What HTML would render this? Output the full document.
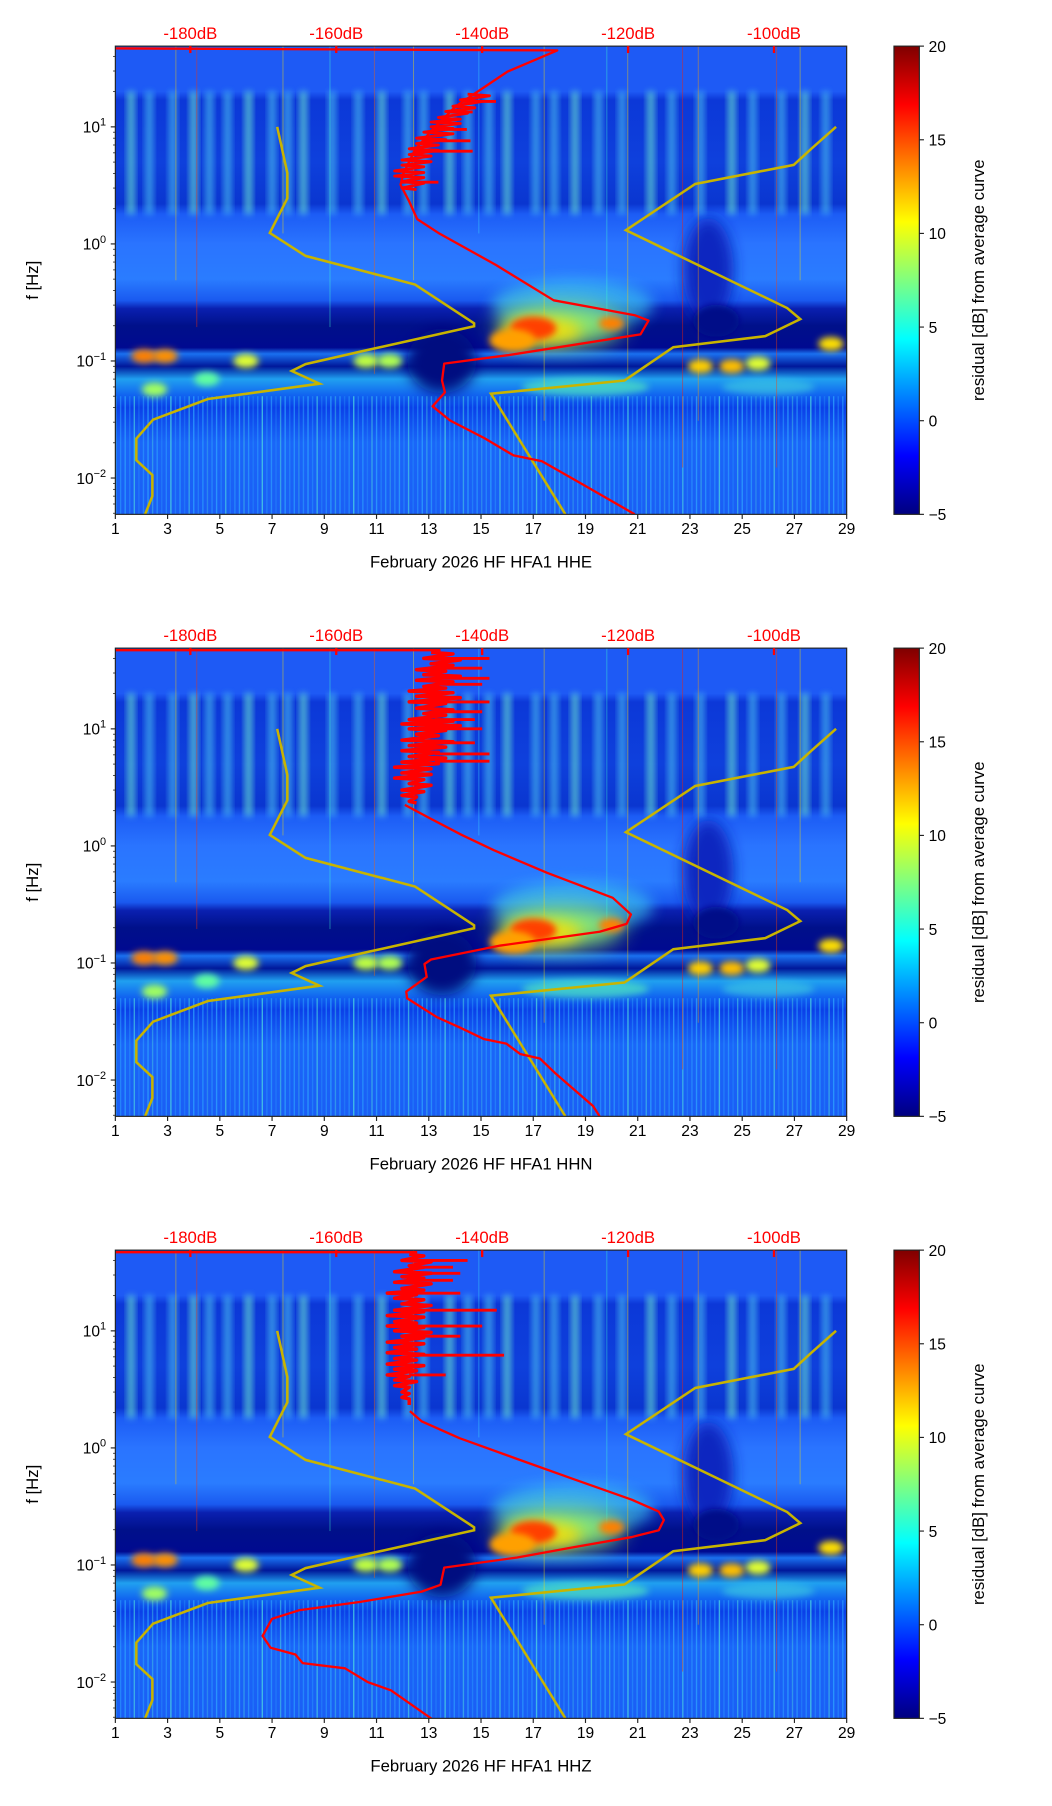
<!DOCTYPE html>
<html><head><meta charset="utf-8"><title>HFA1 spectrogram residuals</title>
<style>
html,body{margin:0;padding:0;background:#fff;}
svg{display:block;font-family:"Liberation Sans",sans-serif;}
</style></head>
<body>
<svg id="chart" width="1052" height="1806" viewBox="0 0 912 1566" preserveAspectRatio="none" xmlns="http://www.w3.org/2000/svg">
<defs>
<linearGradient id="jet" x1="0" y1="1" x2="0" y2="0">
<stop offset="0" stop-color="#00007f"/><stop offset="0.125" stop-color="#0000ff"/>
<stop offset="0.375" stop-color="#00ffff"/><stop offset="0.625" stop-color="#ffff00"/>
<stop offset="0.875" stop-color="#ff0000"/><stop offset="1" stop-color="#7f0000"/>
</linearGradient>
<filter id="blur3" x="-50%" y="-50%" width="200%" height="200%"><feGaussianBlur stdDeviation="3"/></filter>
<filter id="blur6" x="-50%" y="-50%" width="200%" height="200%"><feGaussianBlur stdDeviation="6"/></filter>
<filter id="blur10" x="-50%" y="-50%" width="200%" height="200%"><feGaussianBlur stdDeviation="10"/></filter>
</defs>
</svg>
<script>
// ---------- data ----------
const panelTops = [40, 562, 1084];
const channelNames = ["HHE", "HHN", "HHZ"];
const dayTicks = [1,3,5,7,9,11,13,15,17,19,21,23,25,27,29];
const dbTicks = [-180,-160,-140,-120,-100];
const cbTicks = [20,15,10,5,0,-5];
const decadeTicks = [10, 1, 0.1, 0.01];
const decadeExp = ["1","0","\u22121","\u22122"];

const nlnmF  = [10,4.04,2.45,1.24,0.79,0.45,0.21,0.198,0.125,0.094,0.082,0.064,0.0473,0.0315,0.0217,0.0142,0.0106,0.0070,0.0049];
const nlnmDb = [-168.1,-166.7,-166.7,-169.1,-164.2,-149.2,-141.1,-141.1,-155.5,-164.2,-166.1,-162.3,-177.6,-185.1,-187.4,-187.4,-185.2,-185.2,-186.2];
const nhnmF  = [10,6.5,4.73,3.25,1.31,0.283,0.228,0.163,0.131,0.068,0.0525,0.0049];
const nhnmDb = [-91.5,-94.9,-97.3,-110.8,-120.3,-98.2,-96.4,-101.2,-113.8,-120.5,-138.8,-128.6];

const red1F  = [47,45,29.7,15,9.5,6.4,4.0,3.2,2.3,1.63,1.24,0.66,0.33,0.28,0.245,0.221,0.169,0.112,0.095,0.068,0.054,0.041,0.031,0.0219,0.0156,0.0139,0.0088,0.0049];
const red1Db = [-195,-129.7,-136.5,-143.6,-146.8,-149.2,-150.8,-151.2,-150,-148.9,-146,-138.1,-130.2,-124,-119,-117.2,-118.3,-136.5,-145.2,-145.5,-145.1,-146.8,-144.4,-139.7,-135.7,-131.8,-126.2,-119.1];
const red2F  = [2.24,1.74,1.24,0.92,0.59,0.36,0.26,0.216,0.185,0.141,0.107,0.098,0.076,0.057,0.050,0.0344,0.028,0.0224,0.0205,0.0167,0.0153,0.0113,0.006,0.0049];
const red2Db = [-150.6,-147.3,-142.8,-138.4,-131.1,-122.1,-119.6,-120.2,-123.9,-137.5,-147,-147.9,-147.6,-150.4,-150.3,-146.2,-143,-139.8,-136.7,-134.8,-132.1,-129.9,-124.8,-123.9];
const red3F  = [2.06,1.69,1.21,0.805,0.54,0.361,0.286,0.242,0.198,0.173,0.142,0.116,0.095,0.0677,0.0592,0.0484,0.041,0.0347,0.0248,0.0196,0.0172,0.0145,0.0131,0.01,0.0085,0.0048];
const red3Db = [-149.9,-148.3,-143.1,-135.2,-127.4,-119.5,-115.8,-115.1,-115.8,-119.5,-127.4,-135.2,-145.2,-145.7,-148.3,-156.7,-165.1,-168.8,-170.1,-169,-165.6,-164.6,-158.8,-155.7,-152.5,-146.8];

const noiseF   = [45,40,36,32,29,26,23,21,19,17,15,13.5,12,11,10,9,8,7.2,6.5,5.8,5.2,4.7,4.2,3.8,3.4,3.0,2.7,2.4];
const noise1Lo = [-131,-133,-134,-136,-137,-138,-140,-141,-142,-143,-144,-145,-146,-147,-147,-148,-149,-149,-150,-150,-151,-151,-152,-152,-151,-151,-150,-150];
const noise1Hi = [-129,-131,-132,-134,-135,-136,-137,-138,-139,-140,-141,-142,-143,-143,-144,-144,-145,-146,-146,-147,-147,-148,-148,-148,-148,-149,-148,-149];
const noise2Lo = [-147,-148,-147,-149,-148,-149,-148,-150,-149,-150,-149,-148,-150,-151,-150,-149,-151,-150,-151,-150,-151,-152,-151,-152,-150,-151,-151,-150];
const noise2Hi = [-144,-143,-144,-145,-143,-144,-145,-144,-143,-145,-144,-145,-144,-143,-145,-146,-144,-145,-146,-145,-146,-147,-147,-148,-147,-148,-149,-149];
const noise3Lo = [-150,-151,-150,-152,-151,-152,-151,-153,-152,-151,-152,-153,-152,-153,-152,-151,-153,-152,-153,-152,-153,-152,-153,-152,-152,-151,-151,-150];
const noise3Hi = [-148,-147,-148,-147,-148,-147,-148,-149,-148,-147,-148,-148,-149,-148,-147,-148,-148,-149,-148,-149,-148,-149,-150,-149,-150,-150,-150,-150];
const top2Db = -145.7, top3Db = -148.9;

const spike1F  = [16.5,13.4,9.5,7.6,6.2,3.37];
const spike1Db = [-138.1,-141.3,-142.1,-141.6,-141.3,-146];
const spike2F  = [40,33,27,24,17,14,12,10,7.6,6.1,5.3];
const spike2Db = [-139,-140,-139,-140,-139,-140,-141,-140,-141,-139,-139];
const spike3F  = [40,35,31,27,21,15,11,9,6.2,4.2];
const spike3Db = [-142,-144,-143,-144,-143,-138,-140,-143,-137,-145];

const stripeDays = [1.6,2.3,3.2,4.0,4.6,5.3,6.1,7.0,7.6,8.2,9.3,10.3,11.2,12.2,12.8,13.8,14.5,15.3,16.0,17.1,17.8,18.6,19.5,20.4,21.5,22.3,23.4,24.6,25.4,26.5,27.4,28.2];
const lineDays = [3.3,4.1,7.4,9.2,10.9,12.4,14.9,17.4,19.8,20.6,22.7,23.3,26.3,27.2];
const lineCols = ["#ffd000","#ff3000","#ffe000","#40ffd0","#ff6000","#ffe000","#40e0ff","#ffe000","#40ffd0","#ffd000","#ff2000","#ffa000","#ff4000","#ffe000"];
const lineLens = [0.5,0.6,0.4,0.6,0.7,0.5,0.4,0.8,0.6,0.7,0.9,0.8,0.9,0.5];
const blobDays  = [17.0,16.2,20.0,2.1,2.9,6.0,10.6,11.5,23.4,24.6,25.6,28.4,2.5,4.5];
const blobFreqs = [0.19,0.15,0.21,0.11,0.11,0.10,0.10,0.10,0.09,0.09,0.095,0.14,0.057,0.07];
const blobCols  = ["#ff4000","#ffa000","#ff8000","#ff8000","#ff9000","#e0ff30","#c0ff40","#b0ff50","#ffd000","#ffc000","#e0ff30","#ffe000","#a0ff60","#60ffa0"];

// ---------- helpers ----------
const NS = "http://www.w3.org/2000/svg";
const svg = document.getElementById("chart");
const AX_L = 100, AX_R = 734, AX_H = 406;
function xDay(d){ return AX_L + (d-1)*(AX_R-AX_L)/28; }
function yF(f, top){ return top + 70 + (1 - Math.log10(f))*101.5; }
function xDb(db){ return 165 + (db+180)*6.325; }
function mk(tag, attrs, parent){
  const e = document.createElementNS(NS, tag);
  for (const k in attrs) e.setAttribute(k, attrs[k]);
  (parent||svg).appendChild(e);
  return e;
}
function pathOf(F, D, top){
  return F.map((f,i)=>(i?"L":"M")+xDb(D[i]).toFixed(1)+","+yF(f,top).toFixed(1)).join(" ");
}
function interpDb(F, D, f){
  const lf = Math.log10(f);
  for (let i=0;i<F.length-1;i++){
    const a=Math.log10(F[i]), b=Math.log10(F[i+1]);
    if ((lf<=a && lf>=b)){ const t=(a-lf)/(a-b||1); return D[i]+(D[i+1]-D[i])*t; }
  }
  return D[0];
}

const gradStops = [[50,"#1e5af5"],[20,"#1e5af5"],[17,"#0c38d8"],[5,"#0e40dc"],[2.2,"#0a36d0"],[1.8,"#1c5cf5"],[1.0,"#2a74ff"],[0.5,"#2a7cff"],[0.33,"#1a5af0"],[0.28,"#0a20b0"],[0.2,"#00108a"],[0.13,"#000a90"],[0.115,"#1a70f0"],[0.09,"#00189a"],[0.07,"#20a0f0"],[0.05,"#1060f0"],[0.04,"#0a40e8"],[0.02,"#1a66f8"],[0.005,"#1a5ef5"]];

const redF = [red1F, red2F, red3F], redDb = [red1Db, red2Db, red3Db];
const nLo = [noise1Lo, noise2Lo, noise3Lo], nHi = [noise1Hi, noise2Hi, noise3Hi];
const spF = [spike1F, spike2F, spike3F], spD = [spike1Db, spike2Db, spike3Db];

panelTops.forEach((top, p) => {
  const g = mk("g", {});
  
  
  const bottom = top + AX_H;
  const cp = mk("clipPath", {id:"clip"+p}, svg.querySelector("defs"));
  mk("rect", {x:AX_L, y:top, width:AX_R-AX_L, height:AX_H}, cp);
  const lg = mk("linearGradient", {id:"bg"+p, x1:0, y1:0, x2:0, y2:1}, svg.querySelector("defs"));
  gradStops.forEach(s => mk("stop", {offset:((yF(s[0],top)-top)/AX_H).toFixed(4), "stop-color":s[1]}, lg));
  const heat = mk("g", {"clip-path":"url(#clip"+p+")"}, g);
  
  
  mk("rect", {x:AX_L, y:top, width:AX_R-AX_L, height:AX_H, fill:"url(#bg"+p+")"}, heat);
  mk("ellipse", {cx:xDay(13.5), cy:yF(0.1,top), rx:30, ry:28, fill:"#000a80", filter:"url(#blur6)"}, heat);
  mk("ellipse", {cx:xDay(23.7), cy:yF(0.6,top), rx:22, ry:45, fill:"#0a28c0", filter:"url(#blur6)"}, heat);
  mk("ellipse", {cx:xDay(24.0), cy:yF(0.22,top), rx:20, ry:14, fill:"#000a88", filter:"url(#blur3)"}, heat);
  mk("ellipse", {cx:xDay(18.5), cy:yF(0.3,top), rx:70, ry:22, fill:"#40d0f0", opacity:0.6, filter:"url(#blur6)"}, heat);
  mk("ellipse", {cx:xDay(18.0), cy:yF(0.2,top), rx:55, ry:18, fill:"#a0ff60", opacity:0.85, filter:"url(#blur10)"}, heat);
  mk("ellipse", {cx:xDay(17.3), cy:yF(0.18,top), rx:35, ry:12, fill:"#ffe000", opacity:0.8, filter:"url(#blur6)"}, heat);
  mk("ellipse", {cx:xDay(19), cy:yF(0.06,top), rx:55, ry:8, fill:"#50e8c0", opacity:0.7, filter:"url(#blur3)"}, heat);
  mk("ellipse", {cx:xDay(26), cy:yF(0.06,top), rx:40, ry:7, fill:"#40d0e0", opacity:0.6, filter:"url(#blur3)"}, heat);
  stripeDays.forEach((d,i) => {
    mk("rect", {x:xDay(d)-3, y:yF(20,top), width:6, height:yF(1.8,top)-yF(20,top), fill:(i%3===0?"#70f0d0":"#50c8f0"), opacity:0.7, filter:"url(#blur3)"}, heat);
  });
  for (let i=0;i<160;i++){
    const d = 1 + i*28/160;
    mk("rect", {x:xDay(d), y:yF(0.05,top), width:1.2, height:bottom-yF(0.05,top), fill:(i%4===0?"#50e0e0":"#30a8ff"), opacity:(0.3+0.1*(i*7%5))}, heat);
  }
  lineDays.forEach((d,i) => {
    const l = mk("rect", {x:xDay(d), y:top, width:0.8, height:AX_H*lineLens[i], fill:lineCols[i], opacity:0.45}, heat);
    
    
  });
  blobDays.forEach((d,i) => {
    const b = mk("ellipse", {cx:xDay(d), cy:yF(blobFreqs[i],top), rx:(i<2?20:11), ry:(i<2?10:6), fill:blobCols[i], filter:"url(#blur3)"}, heat);
    
    
  });
  const lo = mk("path", {d:pathOf(nlnmF,nlnmDb,top), fill:"none", stroke:"#c8b400", "stroke-width":2.2}, heat);
  
  
  const hi = mk("path", {d:pathOf(nhnmF,nhnmDb,top), fill:"none", stroke:"#c8b400", "stroke-width":2.2}, heat);
  
  
  const rg = mk("g", {fill:"none", stroke:"#ff0000", "stroke-linejoin":"round"}, heat);
  
  
  if (p===0){
    mk("path", {d:pathOf(redF[0],redDb[0],top), "stroke-width":2}, rg);
    let zz = "";
    noiseF.forEach((f,i)=>{ if(f<=20 && f>=2.8){ zz += (zz?"L":"M")+xDb(nLo[0][i])+","+yF(f,top)+" L"+xDb(nHi[0][i])+","+yF(f*0.97,top)+" "; }});
    mk("path", {d:zz, "stroke-width":2.5}, rg);
  } else {
    const topDb = p===1?top2Db:top3Db;
    mk("path", {d:"M"+AX_L+","+yF(47,top)+" L"+xDb(topDb)+","+yF(47,top), "stroke-width":2}, rg);
    let zz = "";
    noiseF.forEach((f,i)=>{ zz += (zz?"L":"M")+xDb(nLo[p][i])+","+yF(f,top)+" L"+xDb(nHi[p][i])+","+yF(f*0.97,top)+" "; });
    mk("path", {d:zz, "stroke-width":3}, rg);
    mk("path", {d:pathOf(redF[p],redDb[p],top), "stroke-width":2}, rg);
  }
  spF[p].forEach((f,i)=>{
    const base = p===0 ? interpDb(redF[0],redDb[0],f) : (nLo[p][0]+nHi[p][0])/2 - 1;
    mk("line", {x1:xDb(base), y1:yF(f,top), x2:xDb(spD[p][i]), y2:yF(f,top), "stroke-width":2.5}, rg);
  });
  const fr = mk("rect", {x:AX_L, y:top, width:AX_R-AX_L, height:AX_H, fill:"none", stroke:"#222", "stroke-width":1}, g);
  
  
  dayTicks.forEach(d => {
    mk("line", {x1:xDay(d), y1:bottom, x2:xDay(d), y2:bottom+4, stroke:"#222"}, g);
    const t = mk("text", {x:xDay(d), y:bottom+17, "font-size":13.5, "text-anchor":"middle", fill:"#000"}, g);
    t.textContent = d;
    
    
  });
  const xl = mk("text", {x:(AX_L+AX_R)/2, y:bottom+46, "font-size":14.5, "text-anchor":"middle", fill:"#000"}, g);
  xl.textContent = "February 2026 HF HFA1  " + channelNames[p];
  
  
  decadeTicks.forEach((f,i) => {
    const y = yF(f,top);
    mk("line", {x1:AX_L-4, y1:y, x2:AX_L, y2:y, stroke:"#222"}, g);
    const t = mk("text", {x:AX_L-8, y:y+5, "font-size":13.5, "text-anchor":"end", fill:"#000"}, g);
    
    
    t.innerHTML = '10<tspan dy="-6" font-size="9.5">' + decadeExp[i] + '</tspan>';
  });
  for (let e=-3; e<=1; e++) for (let m=2; m<=9; m++){
    const f = m*Math.pow(10,e);
    if (f<0.005 || f>49) continue;
    const y = yF(f,top);
    mk("line", {x1:AX_L-2, y1:y, x2:AX_L, y2:y, stroke:"#222", "stroke-width":0.7}, g);
  }
  const yl = mk("text", {x:33, y:top+203, "font-size":14.5, "text-anchor":"middle", fill:"#000", transform:"rotate(-90 33 "+(top+203)+")"}, g);
  yl.textContent = "f [Hz]";
  
  
  dbTicks.forEach(db => {
    mk("line", {x1:xDb(db), y1:top, x2:xDb(db), y2:top+6, stroke:"#ff0000", "stroke-width":2}, g);
    const t = mk("text", {x:xDb(db), y:top-6, "font-size":14.5, "text-anchor":"middle", fill:"#ff0000"}, g);
    t.textContent = db + "dB";
    
    
  });
  const cb = mk("g", {}, g);
  
  
  mk("rect", {x:775, y:top, width:22, height:AX_H, fill:"url(#jet)", stroke:"#222", "stroke-width":1}, cb);
  cbTicks.forEach(v => {
    const y = top + (20 - v)/25*AX_H;
    mk("line", {x1:797, y1:y, x2:801, y2:y, stroke:"#222"}, cb);
    const t = mk("text", {x:805, y:y+5, "font-size":13.5, fill:"#000"}, cb);
    t.textContent = v < 0 ? "\u2212" + (-v) : v;
    
    
  });
  const cl = mk("text", {x:853, y:top+203, "font-size":14.5, "text-anchor":"middle", fill:"#000", transform:"rotate(-90 853 "+(top+203)+")"}, cb);
  cl.textContent = "residual [dB] from average curve";
  
  
});
</script>
</body></html>
